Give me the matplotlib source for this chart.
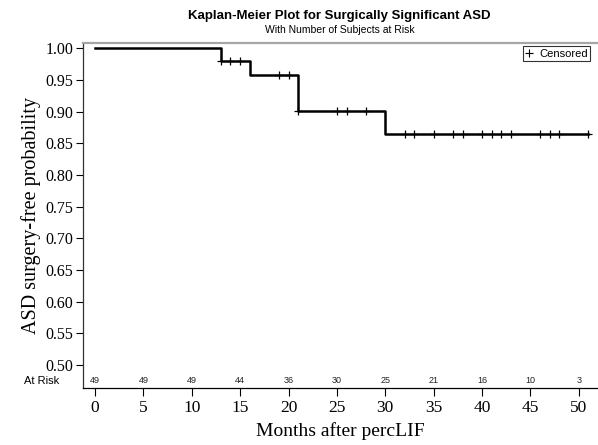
import numpy as np
import matplotlib
matplotlib.use("Agg")
import matplotlib.pyplot as plt
from matplotlib.lines import Line2D

# Kaplan-Meier step data (months, survival probability)
event_times = [0, 13, 16, 21, 30, 51]
survival = [1.0, 0.9796, 0.9578, 0.9015, 0.8654, 0.8654]

# censored observations (months)
censor_times = [13, 14, 15, 19, 20, 21, 25, 26, 28, 32, 33, 35, 37, 38,
                40, 41, 42, 43, 46, 47, 48, 51]

# number at risk table
risk_times = [0, 5, 10, 15, 20, 25, 30, 35, 40, 45, 50]
at_risk = [49, 49, 49, 44, 36, 30, 25, 21, 16, 10, 3]

y_ticks = [0.50, 0.55, 0.60, 0.65, 0.70, 0.75, 0.80, 0.85, 0.90, 0.95, 1.00]

serif = "Liberation Serif"
sans = "Liberation Sans"

fig = plt.figure(figsize=(5.98, 4.45), dpi=100)
ax = fig.add_axes([83 / 598, 1 - 388 / 445, 1 - 83 / 598, (388 - 43) / 445])

ax.step(event_times, survival, where="post", color="black", lw=1.8, zorder=3)

# censor marks sit on the curve
idx = np.searchsorted(event_times, censor_times, side="right") - 1
censor_surv = np.array(survival)[idx]
ax.plot(censor_times, censor_surv, linestyle="none", marker="+", color="black",
        markersize=6, markeredgewidth=0.9, zorder=4)

ax.set_xlim(-1.25, 52.0)
ax.set_ylim(0.4637, 1.0084)

ax.set_xticks(risk_times)
ax.set_yticks(y_ticks)
ax.set_yticklabels([f"{v:.2f}" for v in y_ticks], fontfamily=serif, fontsize=11.5)
ax.set_xticklabels([str(t) for t in risk_times], fontfamily=serif, fontsize=12.5)
ax.tick_params(axis="y", direction="out", length=5, width=0.8, pad=2)
ax.tick_params(axis="x", direction="out", length=6, width=0.8, pad=3)

ax.spines["right"].set_visible(False)
ax.spines["top"].set_color("#a6a6a6")
ax.spines["top"].set_linewidth(1.6)
ax.spines["left"].set_color("#333333")
ax.spines["left"].set_linewidth(0.9)
ax.spines["bottom"].set_linewidth(0.9)

# at-risk row inside the axes
for t, n in zip(risk_times, at_risk):
    ax.text(t, 0.4755, str(n), ha="center", va="center", fontsize=6.5,
            fontfamily=sans, color="#222222")
ax.text(-0.08, 0.4755, "At Risk", transform=ax.get_yaxis_transform(),
        ha="center", va="center", fontsize=8, fontfamily=sans)

ax.set_ylabel("ASD surgery-free probability", fontfamily=serif, fontsize=14.5,
              labelpad=3)
ax.set_xlabel("Months after percLIF", fontfamily=serif, fontsize=14,
              labelpad=4)

fig.text(0.568, 0.965, "Kaplan-Meier Plot for Surgically Significant ASD",
         ha="center", va="center", fontsize=9.5, fontweight="bold",
         fontfamily=sans)
fig.text(0.568, 0.933, "With Number of Subjects at Risk", ha="center",
         va="center", fontsize=7.5, fontfamily=sans)

handle = Line2D([], [], linestyle="none", marker="+", color="black",
                markersize=6, markeredgewidth=0.8)
leg = ax.legend([handle], ["Censored"], loc="upper right",
                bbox_to_anchor=(0.985, 0.99), prop={"family": sans, "size": 8},
                frameon=True, fancybox=False, handlelength=0.8,
                handletextpad=0.5, borderpad=0.2, borderaxespad=0)
leg.get_frame().set_edgecolor("black")
leg.get_frame().set_linewidth(0.8)

fig.savefig("out.png", dpi=100)
